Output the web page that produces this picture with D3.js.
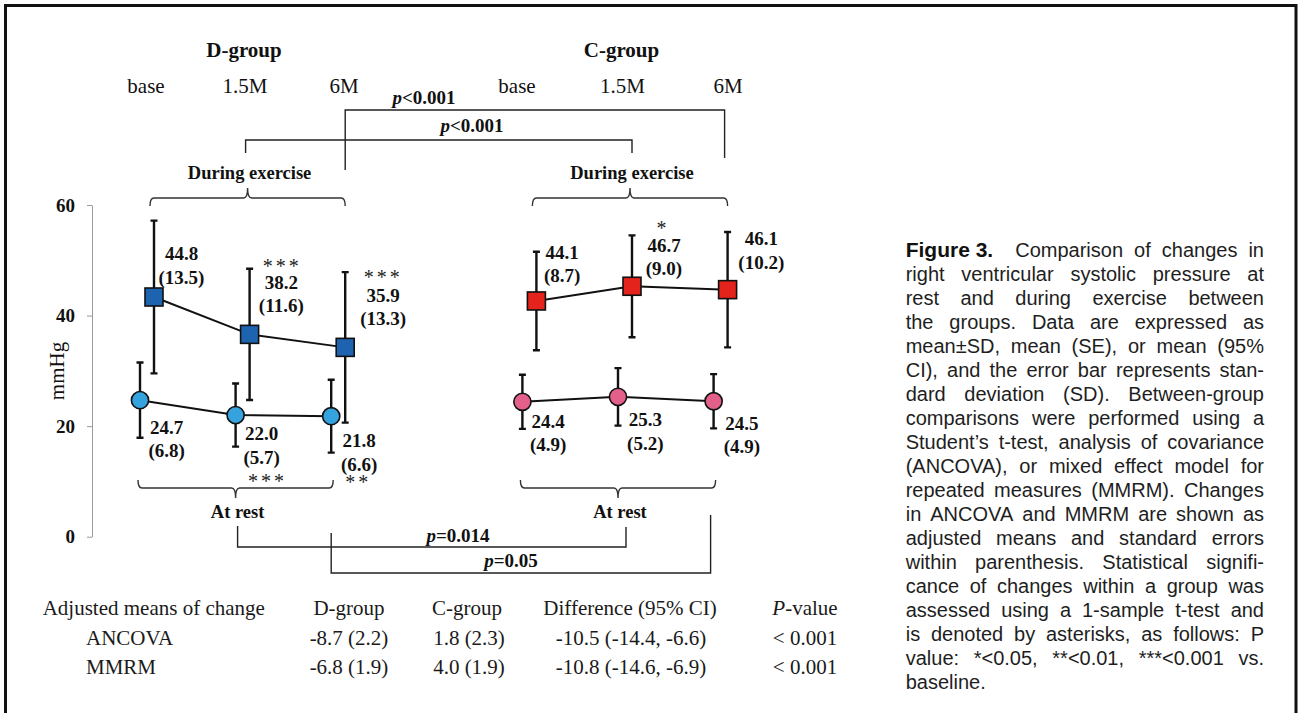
<!DOCTYPE html>
<html>
<head>
<meta charset="utf-8">
<script src="https://cdn.jsdelivr.net/npm/d3@7"></script>
<style>
  html, body { margin: 0; padding: 0; background: #fff; }
  svg { display: block; }
</style>
</head>
<body>
<svg id="chart" width="1298" height="713"></svg>
<script>
// ---- data ----
const timepoints = ["base", "1.5M", "6M"];
const groupNames = ["D-group", "C-group"];
const yTicks = [0, 20, 40, 60];

// right ventricular systolic pressure during exercise (mean, SD)
const dExerciseMean = [44.8, 38.2, 35.9];
const dExerciseSD   = [13.5, 11.6, 13.3];
const cExerciseMean = [44.1, 46.7, 46.1];
const cExerciseSD   = [8.7, 9.0, 10.2];
// at rest (mean, SD)
const dRestMean = [24.7, 22.0, 21.8];
const dRestSD   = [6.8, 5.7, 6.6];
const cRestMean = [24.4, 25.3, 24.5];
const cRestSD   = [4.9, 5.2, 4.9];
// within-group significance vs baseline
const dExerciseStars = ["", "***", "***"];
const cExerciseStars = ["", "*", ""];
const dRestStars     = ["", "***", "**"];
const cRestStars     = ["", "", ""];

// between-group comparisons
const comparisonLabels = ["p<0.001", "p<0.001", "p=0.014", "p=0.05"];
const comparisonPoints = ["6M", "1.5M", "1.5M", "6M"];
const comparisonSets   = ["exercise", "exercise", "rest", "rest"];

// adjusted means of change table
const tableHeader  = ["Adjusted means of change", "D-group", "C-group", "Difference (95% CI)", "P-value"];
const tableMethods = ["ANCOVA", "MMRM"];
const tableD       = ["-8.7 (2.2)", "-6.8 (1.9)"];
const tableC       = ["1.8 (2.3)", "4.0 (1.9)"];
const tableDiff    = ["-10.5 (-14.4, -6.6)", "-10.8 (-14.6, -6.9)"];
const tableP       = ["< 0.001", "< 0.001"];

const captionTitle = "Figure 3.";
const captionLines = [
  "Comparison of changes in",
  "right ventricular systolic pressure at",
  "rest and during exercise between",
  "the groups. Data are expressed as",
  "mean\u00B1SD, mean (SE), or mean (95%",
  "CI), and the error bar represents stan-",
  "dard deviation (SD). Between-group",
  "comparisons were performed using a",
  "Student\u2019s t-test, analysis of covariance",
  "(ANCOVA), or mixed effect model for",
  "repeated measures (MMRM). Changes",
  "in ANCOVA and MMRM are shown as",
  "adjusted means and standard errors",
  "within parenthesis. Statistical signifi-",
  "cance of changes within a group was",
  "assessed using a 1-sample t-test and",
  "is denoted by asterisks, as follows: P",
  "value: *<0.05, **<0.01, ***<0.001 vs.",
  "baseline."
];

// ---- layout ----
const SERIF = "'Liberation Serif','Times New Roman',serif";
const SANS = "'Liberation Sans',Arial,Helvetica,sans-serif";
const INK = "#111";

const svg = d3.select("#chart");

// frame
svg.append("path")
  .attr("d", "M5.5,713 V5.5 H1296 V713")
  .attr("fill", "none").attr("stroke", "#111").attr("stroke-width", 3);

// seven slots: three time points per group with a spacer between the groups
const slots = ["D|base", "D|1.5M", "D|6M", "gap", "C|base", "C|1.5M", "C|6M"];
const x = d3.scalePoint().domain(slots).range([147, 720.6]);
const slotOf = (g, t) => (g === 0 ? "D|" : "C|") + t;

// the drawn axis belongs to the resting series; the exercise series is overlaid on its own scale
const yRest = d3.scaleLinear().domain([0, 60]).range([536.7, 205]);
const yExercise = d3.scaleLinear().domain([0, 60]).range([550.5, 211]);

// y axis
const axis = svg.append("g")
  .attr("transform", "translate(92,0)")
  .call(d3.axisLeft(yRest).tickValues(yTicks).tickSize(5).tickSizeOuter(0).tickPadding(12));
axis.select(".domain").attr("stroke", "#9a9a9a").attr("stroke-width", 1);
axis.selectAll(".tick line").attr("stroke", "#9a9a9a");
axis.selectAll(".tick text")
  .attr("font-family", SERIF).attr("font-weight", "bold").attr("font-size", 19).attr("fill", INK);

svg.append("text")
  .attr("transform", "translate(64,371) rotate(-90)")
  .attr("text-anchor", "middle")
  .attr("font-family", SERIF).attr("font-size", 21).attr("fill", INK)
  .text("mmHg");

// group titles and time point headers
const headerScales = [
  d3.scalePoint().domain(timepoints).range([146, 344]),
  d3.scalePoint().domain(timepoints).range([517, 728])
];
groupNames.forEach((name, g) => {
  const hs = headerScales[g];
  svg.append("text")
    .attr("x", hs("1.5M") - 1).attr("y", 50)
    .attr("dominant-baseline", "central").attr("text-anchor", "middle")
    .attr("font-family", SERIF).attr("font-weight", "bold").attr("font-size", 21).attr("fill", INK)
    .text(name);
  svg.selectAll(null).data(timepoints).join("text")
    .attr("x", d => hs(d)).attr("y", 86)
    .attr("dominant-baseline", "central").attr("text-anchor", "middle")
    .attr("font-family", SERIF).attr("font-size", 21).attr("fill", INK)
    .text(d => d);
});

// series definitions; starOff is relative to the mean label, starLine says which label line carries the stars
const series = [
  { mean: dExerciseMean, sd: dExerciseSD, stars: dExerciseStars, g: 0, set: "exercise", shape: "square", fill: "#1d63b0",
    labelOff: [[27.5, -44], [31.7, -52.7], [38, -52.4]], starOff: [[0, 0], [1, -16], [0, -18]], starLine: 0 },
  { mean: cExerciseMean, sd: cExerciseSD, stars: cExerciseStars, g: 1, set: "exercise", shape: "square", fill: "#e3231c",
    labelOff: [[25.7, -49.3], [32, -41.3], [33.7, -51.4]], starOff: [[0, 0], [-1, -17], [0, 0]], starLine: 0 },
  { mean: dRestMean, sd: dRestSD, stars: dRestStars, g: 0, set: "rest", shape: "circle", fill: "#35a3de",
    labelOff: [[26.7, 26.7], [26, 18], [28, 24]], starOff: [[0, 0], [6, 48], [-1, 42]], starLine: 1 },
  { mean: cRestMean, sd: cRestSD, stars: cRestStars, g: 1, set: "rest", shape: "circle", fill: "#e2608a",
    labelOff: [[25.7, 19], [27.3, 22.6], [28.3, 21.6]], starOff: [[0, 0], [0, 0], [0, 0]], starLine: 1 }
];
const setShift = { exercise: 7, rest: -7 };
const setScale = { exercise: yExercise, rest: yRest };
const px = (s, i) => x(slotOf(s.g, timepoints[i])) + setShift[s.set];
const py = (s, v) => setScale[s.set](v);

// brackets grouping each set of points
function brace(x1, x2, y, dir) {
  // dir = +1: tips point down, centre notch up; dir = -1: mirrored
  const xm = (x1 + x2) / 2, tip = 8 * dir, notch = -10 * dir, r = 4;
  return `M${x1},${y + tip} Q${x1},${y} ${x1 + r},${y} L${xm - r},${y} Q${xm},${y} ${xm},${y + notch}` +
         ` Q${xm},${y} ${xm + r},${y} L${x2 - r},${y} Q${x2},${y} ${x2},${y + tip}`;
}
[0, 1].forEach(g => {
  const ex = series.find(s => s.g === g && s.set === "exercise");
  const rs = series.find(s => s.g === g && s.set === "rest");
  const ex1 = px(ex, 0) - 4, ex2 = px(ex, 2);
  svg.append("path").attr("d", brace(ex1, ex2, 198, 1))
    .attr("fill", "none").attr("stroke", "#333").attr("stroke-width", 1.4);
  svg.append("text").attr("x", (ex1 + ex2) / 2 + 2).attr("y", 172.5)
    .attr("dominant-baseline", "central").attr("text-anchor", "middle")
    .attr("font-family", SERIF).attr("font-weight", "bold").attr("font-size", 18.5).attr("fill", INK)
    .text("During exercise");
  const rs1 = px(rs, 0) - 2, rs2 = px(rs, 2) + 2;
  svg.append("path").attr("d", brace(rs1, rs2, 488, -1))
    .attr("fill", "none").attr("stroke", "#333").attr("stroke-width", 1.4);
  svg.append("text").attr("x", (rs1 + rs2) / 2 + 2).attr("y", 512)
    .attr("dominant-baseline", "central").attr("text-anchor", "middle")
    .attr("font-family", SERIF).attr("font-weight", "bold").attr("font-size", 18.5).attr("fill", INK)
    .text("At rest");
});

// between-group connectors: bar height, end heights, label position, end nudges
const connectorLayout = [
  { bar: 110, yl: 170, yr: 158, lx: 424, ly: 97, dxl: 0, dxr: -3 },
  { bar: 140, yl: 153, yr: 153, lx: 472, ly: 125, dxl: -4, dxr: 0 },
  { bar: 547, yl: 526, yr: 527, lx: 458, ly: 535, dxl: 2, dxr: 8 },
  { bar: 573, yl: 533, yr: 515, lx: 511, ly: 560, dxl: 0, dxr: -3 }
];
comparisonLabels.forEach((lab, k) => {
  const L = connectorLayout[k];
  const sD = series.find(s => s.g === 0 && s.set === comparisonSets[k]);
  const sC = series.find(s => s.g === 1 && s.set === comparisonSets[k]);
  const i = timepoints.indexOf(comparisonPoints[k]);
  const xl = px(sD, i) + L.dxl, xr = px(sC, i) + L.dxr;
  svg.append("path")
    .attr("d", `M${xl},${L.yl} V${L.bar} H${xr} V${L.yr}`)
    .attr("fill", "none").attr("stroke", "#222").attr("stroke-width", 1.4);
  const t = svg.append("text").attr("x", L.lx).attr("y", L.ly)
    .attr("dominant-baseline", "central").attr("text-anchor", "middle")
    .attr("font-family", SERIF).attr("font-weight", "bold").attr("font-size", 19).attr("fill", INK);
  t.append("tspan").attr("font-style", "italic").text(lab[0]);
  t.append("tspan").text(lab.slice(1));
});

// series: error bars, connecting line, markers, labels
series.forEach(s => {
  const gS = svg.append("g");
  const idx = d3.range(s.mean.length);
  // error bars (mean ± SD)
  idx.forEach(i => {
    const cx = px(s, i), top = py(s, s.mean[i] + s.sd[i]), bot = py(s, s.mean[i] - s.sd[i]);
    gS.append("path")
      .attr("d", `M${cx},${top} V${bot} M${cx - 3.5},${top} H${cx + 3.5} M${cx - 3.5},${bot} H${cx + 3.5}`)
      .attr("fill", "none").attr("stroke", "#111").attr("stroke-width", 2.4);
  });
  // connecting line
  gS.append("path")
    .datum(idx)
    .attr("d", d3.line().x(i => px(s, i)).y(i => py(s, s.mean[i])))
    .attr("fill", "none").attr("stroke", "#111").attr("stroke-width", 2);
  // markers
  idx.forEach(i => {
    const cx = px(s, i), cy = py(s, s.mean[i]);
    if (s.shape === "square") {
      gS.append("rect").attr("x", cx - 9).attr("y", cy - 9).attr("width", 18).attr("height", 18)
        .attr("fill", s.fill).attr("stroke", "#111").attr("stroke-width", 1.6);
    } else {
      gS.append("circle").attr("cx", cx).attr("cy", cy).attr("r", 8.6)
        .attr("fill", s.fill).attr("stroke", "#111").attr("stroke-width", 1.6);
    }
  });
  // value labels: mean on the first line, SD in parentheses below; stars share a text with one of them
  idx.forEach(i => {
    const lx = px(s, i) + s.labelOff[i][0], ly = py(s, s.mean[i]) + s.labelOff[i][1];
    [s.mean[i].toFixed(1), `(${s.sd[i].toFixed(1)})`].forEach((txt, j) => {
      const t = gS.append("text")
        .attr("dominant-baseline", "central").attr("text-anchor", "middle")
        .attr("font-family", SERIF).attr("font-size", 19).attr("fill", INK);
      if (s.stars[i] && j === s.starLine) {
        t.append("tspan")
          .attr("x", lx + s.starOff[i][0]).attr("y", ly + s.starOff[i][1])
          .attr("font-size", 20).attr("letter-spacing", 3).attr("fill", "#222")
          .text(s.stars[i]);
      }
      t.append("tspan")
        .attr("x", lx).attr("y", ly + j * 23.5)
        .attr("font-weight", "bold")
        .text(txt);
    });
  });
});

// table of adjusted means of change
const colCenters = [null, 349, 467, 630, 805];
const rowY = [608, 638, 667];
const tableStyle = sel => sel.attr("font-family", SERIF).attr("font-size", 21).attr("fill", "#1a1a1a")
  .attr("dominant-baseline", "central");
tableHeader.forEach((h, c) => {
  const t = svg.append("text").attr("y", rowY[0]).call(tableStyle);
  if (c === 0) {
    t.attr("x", 42.7).attr("text-anchor", "start").text(h);
  } else if (h.startsWith("P-")) {
    t.attr("x", colCenters[c]).attr("text-anchor", "middle");
    t.append("tspan").attr("font-style", "italic").text("P");
    t.append("tspan").text(h.slice(1));
  } else {
    t.attr("x", colCenters[c]).attr("text-anchor", "middle").text(h);
  }
});
tableMethods.forEach((m, r) => {
  const y = rowY[r + 1];
  svg.append("text").attr("x", 86).attr("y", y).attr("text-anchor", "start").call(tableStyle).text(m);
  [tableD[r], tableC[r], tableDiff[r], tableP[r]].forEach((v, c) => {
    svg.append("text").attr("x", colCenters[c + 1] + (c === 1 ? 2 : c === 2 ? 1 : 0)).attr("y", y)
      .attr("text-anchor", "middle").call(tableStyle).text(v);
  });
});

// caption, set as a justified column
const capLeft = 905.7, capRight = 1264, capTop = 257, capLead = 24;
const capG = svg.append("g");
const capStyle = sel => sel.attr("font-family", SANS).attr("font-size", 20).attr("fill", "#1e1e1e");
function setLine(words, x0, x1, y, justify) {
  const nodes = words.map(w => capG.append("text").attr("y", y).call(capStyle).text(w));
  const widths = nodes.map(n => n.node().getComputedTextLength());
  const total = d3.sum(widths);
  const gap = justify && words.length > 1 ? (x1 - x0 - total) / (words.length - 1) : 5.6;
  let cx = x0;
  nodes.forEach((n, i) => { n.attr("x", cx); cx += widths[i] + gap; });
}
const title = capG.append("text").attr("x", capLeft).attr("y", capTop)
  .attr("font-family", "'Liberation Sans Narrow','Arial Narrow',sans-serif")
  .attr("font-weight", "bold").attr("font-size", 21).attr("fill", "#111")
  .text(captionTitle);
const titleEnd = capLeft + title.node().getComputedTextLength();
captionLines.forEach((line, i) => {
  const words = line.split(" ");
  const last = i === captionLines.length - 1;
  const x0 = i === 0 ? Math.max(titleEnd + 22, 1006.7) : capLeft;
  setLine(words, x0, capRight, capTop + i * capLead, !last);
});
</script>
</body>
</html>
